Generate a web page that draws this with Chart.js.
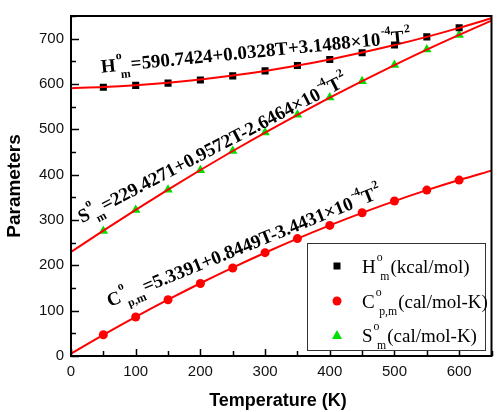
<!DOCTYPE html>
<html><head><meta charset="utf-8">
<script src="https://cdn.jsdelivr.net/npm/chart.js@4"></script>
<style>html,body{margin:0;padding:0;background:#fff}#w{width:497px;height:412px}</style>
</head><body><div id="w"><canvas id="c"></canvas></div>
<script>
const temps = [50,100,150,200,250,300,350,400,450,500,550,600];
const hValues = [593,597,602,609,618,629,641,654,669,686,704,724];
const cValues = [47,86,124,160,194,228,259,288,316,342,366,388];
const sValues = [276,322,367,410,452,493,532,570,606,642,676,708];
const fitTemps = [0,50,100,150,200,250,300,350,400,450,500,550,600,650];
const hFit = [590.7,593.2,597.2,602.7,609.9,618.6,628.9,640.8,654.2,669.3,685.9,704.0,723.8,745.1];
const cFit = [5.3,46.7,86.4,124.3,160.5,195.0,227.8,258.9,288.2,315.8,341.7,365.8,388.3,409.0];
const sFit = [229.4,276.6,322.5,367.0,410.3,452.2,492.8,532.0,570.0,606.5,641.8,675.9,708.4,739.8];
const xTicks = [0,100,200,300,400,500,600];
const yTicks = [0,100,200,300,400,500,600,700];
const xTitle = 'Temperature (K)';
const yTitle = 'Parameters';

const pts = (xs, ys) => xs.map((x,i)=>({x, y: ys[i]}));
const SERIF = '"Liberation Serif","Times New Roman",serif';
const SANS = '"Liberation Sans",Arial,sans-serif';

function drawRich(ctx, x, y, angleDeg, parts, size, weight){
  ctx.save();
  ctx.translate(x, y);
  ctx.rotate(angleDeg*Math.PI/180);
  ctx.textBaseline = 'alphabetic';
  ctx.textAlign = 'left';
  ctx.fillStyle = '#000';
  let cx = 0;
  const small = size*0.62;
  for (const p of parts){
    if (p.k === 'n'){
      ctx.font = `${weight} ${size}px ${SERIF}`;
      ctx.fillText(p.t, cx, 0); cx += ctx.measureText(p.t).width;
    } else if (p.k === 'sup'){
      ctx.font = `${weight} ${small}px ${SERIF}`;
      ctx.fillText(p.t, cx+1, -size*0.55); cx += ctx.measureText(p.t).width+1;
    } else if (p.k === 'ss'){
      ctx.font = `${weight} ${small}px ${SERIF}`;
      const w1 = ctx.measureText(p.sup).width, w2 = ctx.measureText(p.sub).width;
      ctx.fillText(p.sup, cx+1, -size*0.62);
      ctx.fillText(p.sub, cx+1+w1*0.6, size*0.38);
      cx += Math.max(w1, w1*0.6+w2)+2;
    }
  }
  ctx.restore();
}

const eqH = [{k:'n',t:'H'},{k:'ss',sup:'o',sub:'m'},{k:'n',t:'=590.7424+0.0328T+3.1488\u00d710'},{k:'sup',t:'-4'},{k:'n',t:'T'},{k:'sup',t:'2'}];
const eqS = [{k:'n',t:'S'},{k:'ss',sup:'o',sub:'m'},{k:'n',t:'=229.4271+0.9572T-2.6464\u00d710'},{k:'sup',t:'-4'},{k:'n',t:'T'},{k:'sup',t:'2'}];
const eqC = [{k:'n',t:'C'},{k:'ss',sup:'o',sub:'p,m'},{k:'n',t:'=5.3391+0.8449T-3.4431\u00d710'},{k:'sup',t:'-4'},{k:'n',t:'T'},{k:'sup',t:'2'}];
const legH = [{k:'n',t:'H'},{k:'ss',sup:'o',sub:'m'},{k:'n',t:'(kcal/mol)'}];
const legC = [{k:'n',t:'C'},{k:'ss',sup:'o',sub:'p,m'},{k:'n',t:'(cal/mol-K)'}];
const legS = [{k:'n',t:'S'},{k:'ss',sup:'o',sub:'m'},{k:'n',t:'(cal/mol-K)'}];

const deco = {
  id:'deco',
  afterDraw(chart){
    const {ctx, chartArea:a, scales:{x, y}} = chart;
    ctx.save();
    ctx.strokeStyle = '#000'; ctx.lineWidth = 2;
    ctx.strokeRect(a.left, a.top, a.right-a.left, a.bottom-a.top);
    ctx.lineWidth = 1.5;
    ctx.beginPath();
    for (let v = 0; v <= 650; v += 50){
      const px = Math.round(x.getPixelForValue(v))+0.5;
      const len = v % 100 === 0 ? 7 : 5;
      ctx.moveTo(px, a.bottom); ctx.lineTo(px, a.bottom-len);
    }
    for (let v = 0; v <= 750; v += 50){
      const py = Math.round(y.getPixelForValue(v))+0.5;
      const len = v % 100 === 0 ? 8 : 5;
      ctx.moveTo(a.left, py); ctx.lineTo(a.left+len, py);
    }
    ctx.stroke();
    ctx.fillStyle = '#000';
    ctx.font = `bold 18px ${SANS}`;
    ctx.textAlign = 'center'; ctx.textBaseline = 'middle';
    ctx.fillText(xTitle, 278, 401);
    ctx.save();
    ctx.font = `bold 19px ${SANS}`;
    ctx.translate(15, 186);
    ctx.rotate(-Math.PI/2);
    ctx.fillText(yTitle, 0, 0);
    ctx.restore();
    drawRich(ctx, x.getPixelForValue(47), y.getPixelForValue(625), -5.6, eqH, 19, 'bold');
    drawRich(ctx, x.getPixelForValue(17), y.getPixelForValue(293), -27.5, eqS, 19, 'bold');
    drawRich(ctx, x.getPixelForValue(60), y.getPixelForValue(108), -22, eqC, 19, 'bold');
    ctx.fillStyle = '#fff';
    ctx.fillRect(307, 243, 178, 107);
    ctx.strokeStyle = '#333'; ctx.lineWidth = 1;
    ctx.strokeRect(307.5, 243.5, 178, 107);
    const mx = 337;
    ctx.fillStyle = '#000'; ctx.fillRect(mx-3.5, 266-3.5, 7, 7);
    ctx.fillStyle = '#ff0000'; ctx.beginPath(); ctx.arc(mx, 301, 4.5, 0, Math.PI*2); ctx.fill();
    ctx.fillStyle = '#00e000'; ctx.beginPath(); ctx.moveTo(mx, 330); ctx.lineTo(mx+5, 339); ctx.lineTo(mx-5, 339); ctx.closePath(); ctx.fill();
    drawRich(ctx, 362, 273, 0, legH, 19, 'normal');
    drawRich(ctx, 362, 308, 0, legC, 19, 'normal');
    drawRich(ctx, 362, 342, 0, legS, 19, 'normal');
    ctx.restore();
  }
};

const filt = (allowed) => (scale) => { scale.ticks = allowed.map(v => ({value:v})); };

new Chart(document.getElementById('c'), {
  type:'scatter',
  data:{datasets:[
    {label:'Hfit', data:pts(fitTemps,hFit), showLine:true, borderColor:'#ff0000', borderWidth:2, pointRadius:0, cubicInterpolationMode:'monotone', order:0},
    {label:'Sfit', data:pts(fitTemps,sFit), showLine:true, borderColor:'#ff0000', borderWidth:2, pointRadius:0, cubicInterpolationMode:'monotone', order:0},
    {label:'Cfit', data:pts(fitTemps,cFit), showLine:true, borderColor:'#ff0000', borderWidth:2, pointRadius:0, cubicInterpolationMode:'monotone', order:0},
    {label:'H', data:pts(temps,hValues), pointStyle:'rect', pointRadius:5, backgroundColor:'#000', borderColor:'#000', borderWidth:0, order:1},
    {label:'C', data:pts(temps,cValues), pointStyle:'circle', pointRadius:4.5, backgroundColor:'#ff0000', borderColor:'#ff0000', borderWidth:0, order:1},
    {label:'S', data:pts(temps,sValues), pointStyle:'triangle', pointRadius:5.5, backgroundColor:'#00e000', borderColor:'#00e000', borderWidth:0, order:1}
  ]},
  options:{
    responsive:true, maintainAspectRatio:false, animation:false,
    layout:{padding:{left:0, top:14, right:1, bottom:0}},
    plugins:{legend:{display:false}, tooltip:{enabled:false}},
    scales:{
      x:{type:'linear', min:0, max:650,
        afterBuildTicks: filt(xTicks),
        afterFit(s){ s.height = 56; },
        grid:{display:false, drawTicks:false}, border:{display:false},
        ticks:{color:'#111', font:{family:SANS, size:15}, padding:7, maxRotation:0, autoSkip:false}},
      y:{type:'linear', min:0, max:750,
        afterBuildTicks: filt(yTicks),
        afterFit(s){ s.width = 71; },
        grid:{display:false, drawTicks:false}, border:{display:false},
        ticks:{color:'#111', font:{family:SANS, size:15}, padding:7, autoSkip:false}}
    }
  },
  plugins:[deco]
});
</script></body></html>
